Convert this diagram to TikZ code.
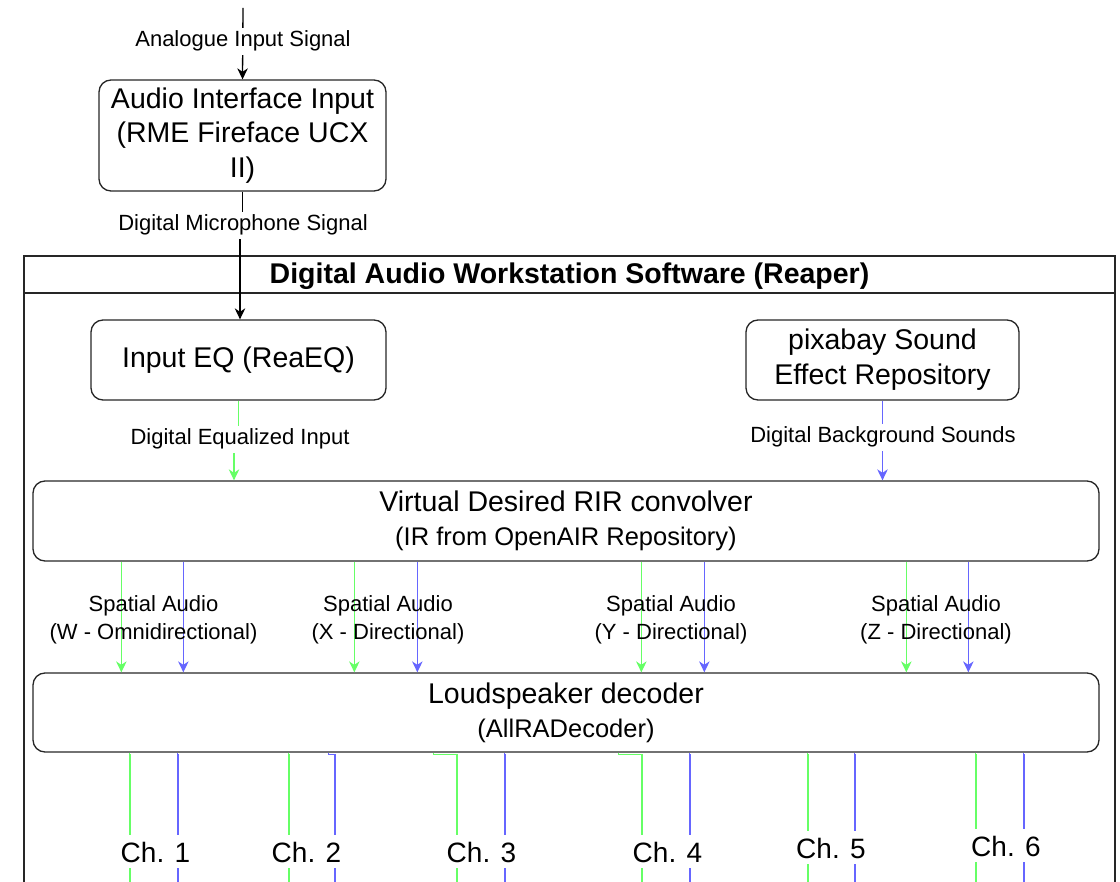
\documentclass[tikz,border=0pt]{standalone}
\usepackage{fontspec}
\setmainfont{Liberation Sans}
\usetikzlibrary{arrows.meta}
\definecolor{gline}{HTML}{66FF66}
\definecolor{bline}{HTML}{6666FF}
\tikzset{
  box/.style={draw=black!85, line width=1.3pt, rounded corners=12pt, align=center, inner sep=0pt, font=\fontsize{28.5}{34.5}\selectfont},
  lbl/.style={font=\fontsize{22}{27}\selectfont, fill=white, inner sep=3pt, anchor=base},
  spat/.style={font=\fontsize{22}{27.5}\selectfont, align=center, inner sep=0pt},
  chl/.style={font=\fontsize{28}{34}\selectfont, fill=white, inner sep=0pt, text height=27pt, text depth=6pt, anchor=base},
  arr/.style={-{Stealth[length=11pt,width=10.5pt,inset=3.5pt]}},
  blk/.style={draw=black, line width=1.3pt},
  gr/.style={draw=gline, line width=1.3pt},
  bl/.style={draw=bline, line width=1.3pt},
  frame/.style={draw=black!85, line width=1.3pt},
}
\begin{document}
\begin{tikzpicture}[x=1pt,y=-1pt]
\useasboundingbox (0,0) rectangle (1120,882);
% container (runs past the bottom edge)
\draw[frame] (24,882) -- (24,256) -- (1115,256) -- (1115,882);
\draw[frame] (24,293) -- (1115,293);
\node[font=\fontsize{28.5}{34}\selectfont\bfseries, anchor=base] (title) at (569.5,284) {Digital Audio Workstation Software (Reaper)};

% boxes
\node[box, minimum width=287pt, minimum height=111pt] (aud) at (242.5,135.5) {Audio Interface Input\\(RME Fireface UCX\\II)};
\node[box, minimum width=295pt, minimum height=80pt] (eq) at (238.5,360) {Input EQ (ReaEQ)};
\node[box, minimum width=273pt, minimum height=80pt, font=\fontsize{28.5}{35}\selectfont] (pix) at (882.5,360) {pixabay Sound\\Effect Repository};
\node[box, minimum width=1066pt, minimum height=80pt, font=\fontsize{28.5}{34}\selectfont] (conv) at (566,521) {Virtual Desired RIR convolver\\{\fontsize{25.5}{34}\selectfont (IR from OpenAIR Repository)}};
\node[box, minimum width=1066pt, minimum height=79pt, font=\fontsize{28.5}{34}\selectfont] (dec) at (566,712.5) {Loudspeaker decoder\\{\fontsize{25.5}{34}\selectfont (AllRADecoder)}};

% top connectors
\coordinate (src) at (243,8);
\draw[blk,arr] (src) -- (aud.north);
\node[lbl] (lana) at (243,47) {Analogue Input Signal};
\draw[blk,arr] (aud.south) -- ++(0,33) -| ([xshift=1.5pt]eq.north);
\node[lbl] (ldig) at (243,231) {Digital Microphone Signal};
\draw[gr,arr] (eq.south) -- ++(0,37) -| ([xshift=-332pt]conv.north);
\node[lbl] (leq) at (240,445) {Digital Equalized Input};
\draw[bl,arr] (pix.south) -- (pix.south |- conv.north);
\node[lbl] (lbg) at (883,443) {Digital Background Sounds};

% spatial audio connectors
\foreach \g/\b in {122/184, 355/418, 642/705, 907/969} {
  \draw[gr,arr] ([xshift={(\g-33)*1pt}]conv.south west) -- ([xshift={(\g-33)*1pt}]dec.north west);
  \draw[bl,arr] ([xshift={(\b-33)*1pt}]conv.south west) -- ([xshift={(\b-33)*1pt}]dec.north west);
}
\node[spat] (sw) at (153.5,620) {Spatial Audio\\(W - Omnidirectional)};
\node[spat] (sx) at (388,620) {Spatial Audio\\(X - Directional)};
\node[spat] (sy) at (671,620) {Spatial Audio\\(Y - Directional)};
\node[spat] (sz) at (936,620) {Spatial Audio\\(Z - Directional)};

% channel outputs
\foreach \s/\e [count=\i] in {130/130, 289/289, 434/457, 619/642, 808/808, 976/976} {
  \coordinate (gend\i) at (\e,882);
  \draw[gr] ([xshift={(\s-33)*1pt}]dec.south west) -- ++(0,1.5) -| (gend\i);
}
\foreach \s/\e [count=\i] in {178/178, 329/335, 505/505, 690/690, 855/855, 1024/1024} {
  \coordinate (bend\i) at (\e,882);
  \draw[bl] ([xshift={(\s-33)*1pt}]dec.south west) -- ++(0,1.5) -| (bend\i);
}
\node[chl] (ch1) at (155.5,862) {Ch. 1};
\node[chl] (ch2) at (306.5,862) {Ch. 2};
\node[chl] (ch3) at (481.5,862) {Ch. 3};
\node[chl] (ch4) at (667.5,862) {Ch. 4};
\node[chl] (ch5) at (831,858) {Ch. 5};
\node[chl] (ch6) at (1006,856) {Ch. 6};
\end{tikzpicture}
\end{document}
